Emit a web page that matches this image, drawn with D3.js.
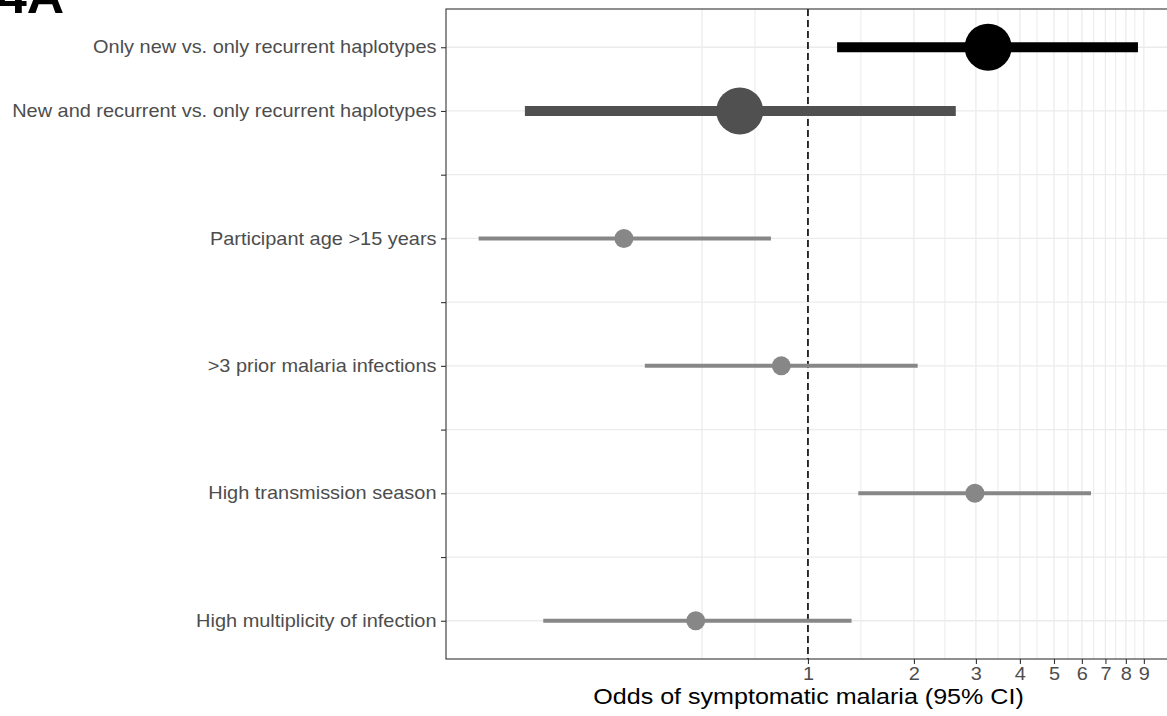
<!DOCTYPE html>
<html>
<head>
<meta charset="utf-8">
<script src="https://cdn.jsdelivr.net/npm/d3@7"></script>
<style>
  html, body { margin: 0; padding: 0; background: #fff; }
  svg { display: block; font-family: "Liberation Sans", Arial, sans-serif; }
</style>
</head>
<body>
<svg id="chart" width="1167" height="716"></svg>
<script>
// Odds ratios with 95% confidence intervals (blank rows are spacers)
const categories = [
  "Only new vs. only recurrent haplotypes",
  "New and recurrent vs. only recurrent haplotypes",
  "gap1",
  "Participant age >15 years",
  "gap2",
  ">3 prior malaria infections",
  "gap3",
  "High transmission season",
  "gap4",
  "High multiplicity of infection"
];
const rows = [
  "Only new vs. only recurrent haplotypes",
  "New and recurrent vs. only recurrent haplotypes",
  "Participant age >15 years",
  ">3 prior malaria infections",
  "High transmission season",
  "High multiplicity of infection"
];
const estimates = [3.25, 0.64, 0.30, 0.84, 2.98, 0.48];
const lowerCI   = [1.21, 0.157, 0.116, 0.344, 1.39, 0.177];
const upperCI   = [8.66, 2.63, 0.785, 2.05, 6.37, 1.33];
const groups    = ["main", "secondary", "covariate", "covariate", "covariate", "covariate"];

const xTicks = [1, 2, 3, 4, 5, 6, 7, 8, 9];
const xGridMajor = [0.5, 1, 2, 3, 4, 5, 6, 7, 8, 9];
const xDomain = [0.0937, 10.54];

const xTitle = "Odds of symptomatic malaria (95% CI)";
const panelTag = "4A";

// styling per group
const groupColor = { main: "#000000", secondary: "#505050", covariate: "#878787" };
const groupLineWidth = { main: 10, secondary: 10, covariate: 4 };
const groupRadius = { main: 23.5, secondary: 23.5, covariate: 9.5 };

// text is drawn slightly widened
const textStretch = 1.14;

const svg = d3.select("#chart");
const panel = { left: 446, right: 1168, top: 9, bottom: 659 };

const x = d3.scaleLog().domain(xDomain).range([panel.left, panel.right]);
const y = d3.scalePoint().domain(categories).range([panel.top, panel.bottom]).padding(0.6);

// minor grid: geometric midpoints between neighbouring major breaks
const xGridMinor = d3.pairs(xGridMajor).map(([a, b]) => Math.sqrt(a * b));

const g = svg.append("g");

svg.append("defs").append("clipPath").attr("id", "panelClip")
  .append("rect")
  .attr("x", panel.left).attr("y", panel.top)
  .attr("width", panel.right - panel.left).attr("height", panel.bottom - panel.top);

const grid = g.append("g").attr("clip-path", "url(#panelClip)");
grid.selectAll(".vminor").data(xGridMinor).join("line")
  .attr("x1", d => x(d)).attr("x2", d => x(d))
  .attr("y1", panel.top).attr("y2", panel.bottom)
  .attr("stroke", "#ebebeb").attr("stroke-width", 1);
grid.selectAll(".vmajor").data(xGridMajor).join("line")
  .attr("x1", d => x(d)).attr("x2", d => x(d))
  .attr("y1", panel.top).attr("y2", panel.bottom)
  .attr("stroke", "#ebebeb").attr("stroke-width", 1.3);
grid.selectAll(".hmajor").data(categories).join("line")
  .attr("x1", panel.left).attr("x2", panel.right)
  .attr("y1", d => y(d)).attr("y2", d => y(d))
  .attr("stroke", "#ebebeb").attr("stroke-width", 1.3);

// reference line at OR = 1
g.append("line")
  .attr("x1", x(1)).attr("x2", x(1))
  .attr("y1", panel.top).attr("y2", panel.bottom)
  .attr("stroke", "#000").attr("stroke-width", 1.6)
  .attr("stroke-dasharray", "7,4");

// confidence intervals and point estimates
const marks = g.append("g").attr("clip-path", "url(#panelClip)");
rows.forEach((r, i) => {
  const grp = groups[i];
  marks.append("line")
    .attr("x1", x(lowerCI[i])).attr("x2", x(upperCI[i]))
    .attr("y1", y(r)).attr("y2", y(r))
    .attr("stroke", groupColor[grp])
    .attr("stroke-width", groupLineWidth[grp]);
  marks.append("circle")
    .attr("cx", x(estimates[i])).attr("cy", y(r))
    .attr("r", groupRadius[grp])
    .attr("fill", groupColor[grp]);
});

// panel border
g.append("rect")
  .attr("x", panel.left).attr("y", panel.top)
  .attr("width", panel.right - panel.left).attr("height", panel.bottom - panel.top)
  .attr("fill", "none").attr("stroke", "#333333").attr("stroke-width", 1.1);

// y axis
const yAxis = g.append("g").attr("transform", `translate(${panel.left},0)`)
  .call(d3.axisLeft(y).tickSize(5).tickPadding(4)
    .tickFormat(d => d.startsWith("gap") ? "" : d));
yAxis.select(".domain").remove();
yAxis.selectAll(".tick line").attr("stroke", "#333333").attr("stroke-width", 1.1);
yAxis.selectAll(".tick text")
  .attr("fill", "#4d4d4d").style("font-size", "17.5px")
  .attr("x", -9.5 / textStretch)
  .attr("transform", `scale(${textStretch},1)`);

// x axis
const xAxis = g.append("g").attr("transform", `translate(0,${panel.bottom})`)
  .call(d3.axisBottom(x).tickValues(xTicks).tickSize(5).tickPadding(4)
    .tickFormat(d3.format("d")));
xAxis.select(".domain").remove();
xAxis.selectAll(".tick line").attr("stroke", "#333333").attr("stroke-width", 1.1);
xAxis.selectAll(".tick text")
  .attr("fill", "#4d4d4d").style("font-size", "17.5px")
  .attr("transform", `scale(${textStretch},1)`);

// axis title
svg.append("text")
  .attr("transform", `translate(${(593 + 1024) / 2},704) scale(${textStretch},1)`)
  .attr("text-anchor", "middle")
  .style("font-size", "22px").attr("fill", "#000")
  .text(xTitle);

// panel tag
svg.append("text")
  .attr("transform", `translate(-2,13) scale(1.08,1)`)
  .style("font-size", "48px").style("font-weight", "bold").attr("fill", "#000")
  .text(panelTag);
</script>
</body>
</html>
